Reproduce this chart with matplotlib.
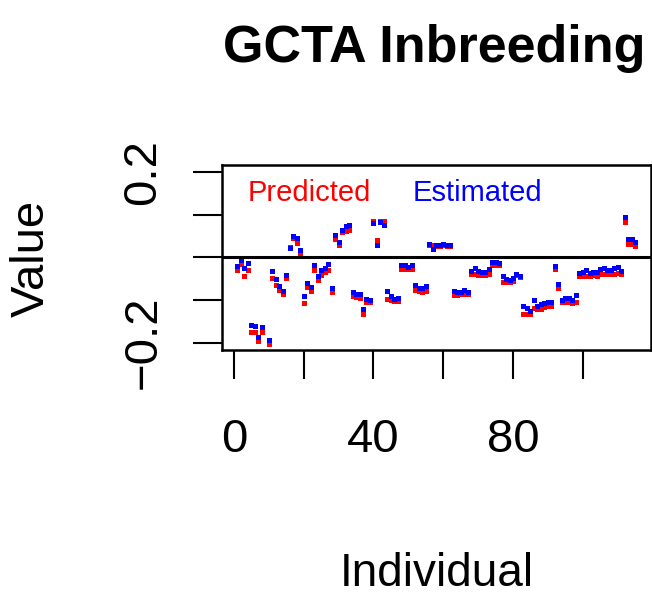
import numpy as np
import matplotlib
matplotlib.use('Agg')
import matplotlib.pyplot as plt

plt.rcParams['font.family'] = ['Liberation Sans', 'DejaVu Sans']

# GCTA inbreeding per individual (None = outside the plotted range)
estimated = [
    -0.021, -0.006, -0.026, -0.013, -0.158, -0.160, -0.186, -0.164, None, -0.193,
    -0.032, -0.051, -0.068, -0.079, -0.042, 0.022, 0.050, 0.045, 0.018, -0.091,
    -0.061, -0.070, -0.018, -0.044, -0.030, -0.025, -0.015, -0.072, 0.053, 0.036,
    0.064, 0.074, 0.075, -0.082, -0.086, -0.087, -0.120, -0.098, -0.100, 0.081,
    0.029, 0.083, 0.075, -0.079, -0.091, -0.098, -0.096, -0.018, -0.018, -0.023,
    -0.019, -0.066, -0.072, -0.072, -0.068, 0.031, 0.020, 0.029, 0.029, 0.030,
    0.029, 0.029, -0.080, -0.082, -0.082, -0.077, -0.081, -0.032, -0.026, -0.033,
    -0.034, -0.035, -0.028, -0.010, -0.010, -0.013, -0.045, -0.051, -0.054, -0.049,
    -0.039, -0.044, -0.115, -0.119, -0.126, -0.101, -0.113, -0.110, -0.108, -0.104,
    -0.105, -0.020, -0.062, -0.100, -0.095, -0.096, -0.099, -0.089, -0.036, -0.034,
    -0.030, -0.037, -0.035, -0.034, -0.028, -0.026, -0.029, -0.030, -0.025, -0.023,
    -0.033, 0.095, 0.043, 0.043, 0.035]

predicted = [
    -0.031, -0.015, -0.045, -0.031, -0.176, -0.176, -0.197, -0.176, None, -0.204,
    -0.049, -0.065, -0.077, -0.087, -0.049, 0.025, 0.046, 0.034, 0.011, -0.108,
    -0.070, -0.079, -0.030, -0.053, -0.041, -0.035, -0.030, -0.082, 0.043, 0.029,
    0.058, 0.062, 0.064, -0.091, -0.094, -0.096, -0.134, -0.105, -0.105, 0.086,
    0.041, 0.086, 0.084, -0.098, -0.101, -0.103, -0.103, -0.028, -0.028, -0.028,
    -0.028, -0.077, -0.079, -0.082, -0.079, 0.029, 0.029, 0.027, 0.027, 0.028,
    0.027, 0.027, -0.089, -0.089, -0.087, -0.087, -0.087, -0.040, -0.040, -0.041,
    -0.041, -0.041, -0.040, -0.017, -0.017, -0.019, -0.058, -0.058, -0.058, -0.056,
    -0.042, -0.047, -0.132, -0.132, -0.133, -0.118, -0.120, -0.120, -0.117, -0.115,
    -0.115, -0.027, -0.073, -0.105, -0.104, -0.105, -0.107, -0.104, -0.045, -0.045,
    -0.044, -0.044, -0.042, -0.043, -0.040, -0.040, -0.040, -0.040, -0.039, -0.037,
    -0.039, 0.083, 0.031, 0.031, 0.027]

x_ticks = [0, 20, 40, 60, 80, 100]
x_labels = ['0', '', '40', '', '80', '']
y_ticks = [-0.2, -0.1, 0.0, 0.1, 0.2]
y_labels = ['\u22120.2', '', '', '', '0.2']

est = np.array([np.nan if v is None else v for v in estimated])
pred = np.array([np.nan if v is None else v for v in predicted])
idx = np.arange(1, len(est) + 1)

W, H = 652, 595
fig = plt.figure(figsize=(W / 100, H / 100), dpi=100)
ax = fig.add_axes([221.5 / W, 1 - 349.5 / H, 429.5 / W, 184.5 / H])

# predicted first, estimated drawn on top
ax.plot(idx, pred, 's', color='red', markersize=3.6, markeredgewidth=0)
ax.plot(idx, est, 's', color='blue', markersize=3.6, markeredgewidth=0)
ax.axhline(0, color='black', lw=2.2)

n = len(est)
pad = 0.04 * (n - 1)
ax.set_xlim(1 - pad, n + pad)
ax.set_ylim(-0.216, 0.216)

for s in ax.spines.values():
    s.set_linewidth(1.8)

ax.set_xticks(x_ticks)
ax.set_xticklabels(x_labels, fontsize=34)
ax.set_yticks(y_ticks)
ax.set_yticklabels(y_labels, fontsize=34, rotation=90, va='center')
ax.tick_params(axis='both', direction='out', length=21, width=1.5)
ax.tick_params(axis='x', pad=28.5)
ax.tick_params(axis='y', pad=19.5)

fig.text(434 / W, 1 - 62 / H, 'GCTA Inbreeding', fontsize=37.5, fontweight='bold',
         ha='center', va='baseline')
fig.text(437 / W, 1 - 586 / H, 'Individual', fontsize=33, ha='center', va='baseline')
fig.text(32 / W, 1 - 258 / H, 'Value', fontsize=34, rotation=90, ha='center', va='center')

fig.text(248 / W, 1 - 193 / H, 'Predicted', fontsize=21, color='red', ha='left', va='center')
fig.text(413 / W, 1 - 193 / H, 'Estimated', fontsize=21, color='blue', ha='left', va='center')

fig.savefig('out.png', dpi=100)
